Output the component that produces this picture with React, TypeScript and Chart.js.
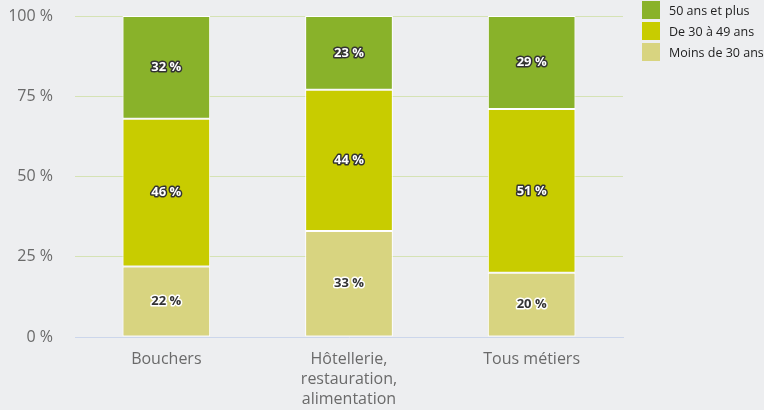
import React, { useEffect, useRef } from "react";
import { Chart, registerables } from "chart.js";

Chart.register(...registerables);

const categories: (string | string[])[] = [
  "Bouchers",
  ["Hôtellerie,", "restauration,", "alimentation"],
  "Tous métiers",
];
const seriesNames = ["Moins de 30 ans", "De 30 à 49 ans", "50 ans et plus"];
const moins30 = [22, 33, 20];
const de30a49 = [46, 44, 51];
const plus50 = [32, 23, 29];
const seriesColors = ["#d8d480", "#c8cc00", "#89b22a"];
const labelDark = [true, false, false];
const yTicks = [0, 25, 50, 75, 100];

const BG = "#edeef0";

const labelPlugin = {
  id: "segLabels",
  afterDatasetsDraw(chart: any) {
    const ctx = chart.ctx;
    ctx.save();
    ctx.font = "bold 13px 'Open Sans'";
    ctx.textAlign = "center";
    ctx.textBaseline = "middle";
    ctx.lineJoin = "round";
    chart.data.datasets.forEach((ds: any, di: number) => {
      const meta = chart.getDatasetMeta(di);
      meta.data.forEach((el: any, i: number) => {
        const v = ds.data[i];
        const cy = (el.y + el.base) / 2;
        const txt = v + " %";
        ctx.lineWidth = 3;
        ctx.strokeStyle = labelDark[di] ? "#ffffff" : "#333333";
        ctx.strokeText(txt, el.x, cy);
        ctx.fillStyle = labelDark[di] ? "#333333" : "#ffffff";
        ctx.fillText(txt, el.x, cy);
      });
    });
    ctx.restore();
  },
};

export default function App() {
  const ref = useRef<HTMLCanvasElement | null>(null);
  useEffect(() => {
    if (!ref.current) return;
    const data = [moins30, de30a49, plus50];
    const chart = new Chart(ref.current, {
      type: "bar",
      data: {
        labels: categories as any,
        datasets: data.map((d, i) => ({
          label: seriesNames[i],
          data: d,
          backgroundColor: seriesColors[i],
          borderColor: "#ffffff",
          borderWidth: 1,
          borderSkipped: false,
          categoryPercentage: 1,
          barPercentage: 0.48,
        })),
      },
      options: {
        responsive: false,
        animation: false,
        devicePixelRatio: 1,
        layout: { autoPadding: false, padding: { left: 10, right: 141, top: 16, bottom: 0 } },
        plugins: {
          legend: { display: false },
          tooltip: { enabled: false },
        },
        scales: {
          x: {
            stacked: true,
            grid: { display: false, drawTicks: false },
            border: { display: true, color: "#ccd6eb", width: 1 },
            ticks: {
              color: "#6a6a6a",
              font: { family: "'Open Sans'", size: 16, lineHeight: 1.25 },
              padding: 12,
              maxRotation: 0,
            },
            afterFit: (s: any) => {
              s.height = 73;
              s.paddingLeft = 0;
              s.paddingRight = 0;
              s.paddingTop = 0;
              s.paddingBottom = 0;
            },
          },
          y: {
            stacked: true,
            min: 0,
            max: 100,
            afterBuildTicks: (axis: any) => {
              axis.ticks = yTicks.map((v) => ({ value: v }));
            },
            afterFit: (s: any) => {
              s.width = 65;
              s.paddingLeft = 0;
              s.paddingRight = 0;
              s.paddingTop = 0;
              s.paddingBottom = 0;
            },
            grid: {
              drawTicks: false,
              color: (c: any) => (c.tick && c.tick.value === 0 ? "rgba(0,0,0,0)" : "#d5e2b4"),
              lineWidth: 1,
            },
            border: { display: false },
            ticks: {
              color: "#6a6a6a",
              font: { family: "'Open Sans'", size: 16 },
              padding: 22,
              callback: (v: any) => v + " %",
            },
          },
        },
      },
      plugins: [labelPlugin],
    });
    return () => chart.destroy();
  }, []);

  return (
    <div
      style={{
        position: "fixed",
        left: 0,
        top: 0,
        width: 764,
        height: 410,
        background: BG,
        overflow: "hidden",
      }}
    >
      <canvas ref={ref} width={764} height={410} style={{ display: "block", width: 764, height: 410 }} />
      <div
        style={{
          position: "absolute",
          left: 642,
          top: 1,
          fontFamily: "'Open Sans'",
          fontSize: 12.5,
          color: "#222",
        }}
      >
        {[2, 1, 0].map((i) => (
          <div key={i} style={{ display: "flex", alignItems: "center", height: 18, marginBottom: 3 }}>
            <div style={{ width: 18, height: 18, background: seriesColors[i], marginRight: 9 }} />
            <span style={{ whiteSpace: "nowrap" }}>{seriesNames[i]}</span>
          </div>
        ))}
      </div>
    </div>
  );
}
